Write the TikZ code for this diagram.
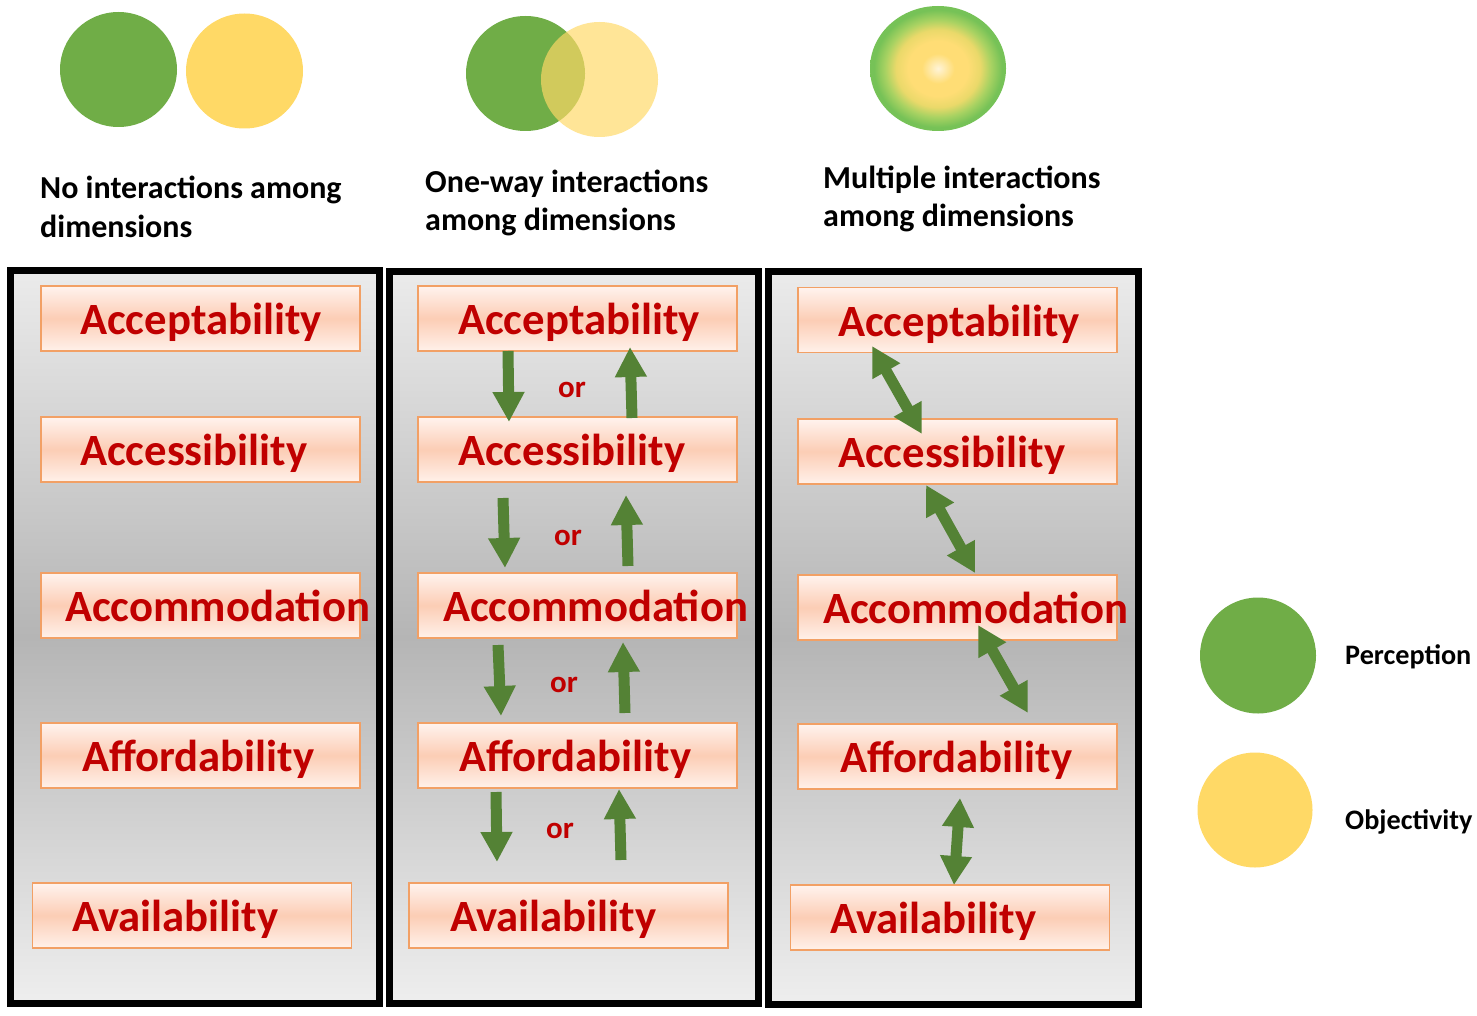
\documentclass[tikz,border=0pt]{standalone}
\usepackage{fontspec}
\setmainfont{Carlito}
\usetikzlibrary{arrows.meta,calc}
\definecolor{pgreen}{HTML}{70AD47}
\definecolor{pyellow}{HTML}{FFD966}
\definecolor{agreen}{HTML}{548235}
\definecolor{dred}{HTML}{C00000}
\definecolor{boxedge}{HTML}{F2A065}
\definecolor{boxtop}{HTML}{FFF3EE}
\definecolor{boxmid}{HTML}{FCCDB5}
\definecolor{boxbot}{HTML}{FFF1EA}
\definecolor{paneltop}{HTML}{EBEBEB}
\definecolor{panelmid}{HTML}{B5B5B5}
\definecolor{panelbot}{HTML}{EEEEEE}
\definecolor{bc0}{HTML}{FFF4D8}
\definecolor{bc1}{HTML}{FFDD75}
\definecolor{bc2}{HTML}{EAD96A}
\definecolor{bc3}{HTML}{A8D262}
\definecolor{bc4}{HTML}{76C257}
\pgfdeclareradialshading{ballshade}{\pgfpoint{0bp}{0bp}}{color(0bp)=(bc0); color(6bp)=(bc1); color(11bp)=(bc1); color(15.5bp)=(bc2); color(19.5bp)=(bc3); color(23.5bp)=(bc4); color(50bp)=(bc4)}
\tikzset{
  panel/.style={draw=black, line width=7pt, top color=paneltop, bottom color=panelbot, middle color=panelmid},
  dimbox/.style={draw=boxedge, line width=1.4pt, rectangle, inner sep=0pt, minimum width=319pt, minimum height=65pt, top color=boxtop, bottom color=boxbot, middle color=boxmid},
  dimtext/.style={anchor=base west, inner sep=0pt, text=dred, font=\fontsize{44.7}{50}\selectfont\bfseries},
  ortext/.style={anchor=base, inner sep=0pt, text=dred, font=\fontsize{31}{36}\selectfont\bfseries},
  headtext/.style={anchor=base west, inner sep=0pt, text=black, font=\fontsize{32}{38}\selectfont\bfseries},
  legtext/.style={anchor=base west, inner sep=0pt, text=black, font=\fontsize{28.2}{33}\selectfont\bfseries},
  onearrow/.style={draw=agreen, line width=11pt, -{Triangle[width=30pt,length=30pt]}},
  twoarrow/.style={draw=agreen, line width=11pt, {Triangle[width=30pt,length=29pt]}-{Triangle[width=30pt,length=29pt]}}
}
\begin{document}
\begin{tikzpicture}[x=1pt,y=-1pt]
\useasboundingbox[fill=white] (0,0) rectangle (1477,1016);

% top symbols
\fill[pgreen] (118.5,69.5) ellipse [x radius=58.5, y radius=57.5];
\fill[pyellow] (244.5,71) ellipse [x radius=58.5, y radius=57.5];
\fill[pgreen] (525.5,73.5) ellipse [x radius=59.5, y radius=57.5];
\fill[pyellow, fill opacity=0.68] (599.5,79.5) ellipse [x radius=58.5, y radius=57.5];
\shade[shading=ballshade] (938,68.5) ellipse [x radius=68, y radius=62.5];

% headings
\node[headtext] (h1a) at (40,199) {No interactions among};
\node[headtext] (h1b) at (40,238) {dimensions};
\node[headtext] (h2a) at (425,193) {One-way interactions};
\node[headtext] (h2b) at (425,231) {among dimensions};
\node[headtext] (h3a) at (823,189) {Multiple interactions};
\node[headtext] (h3b) at (823,227) {among dimensions};

% panels
\path[panel] (10.5,270.5) rectangle (379.5,1003.5);
\path[panel] (389.5,271.5) rectangle (758.5,1003.5);
\path[panel] (768.5,272) rectangle (1138.5,1004);

% panel 1
\node[dimbox] (p1a) at (200.5,318.5) {};
\node[dimtext] at (80,334) {Acceptability};
\node[dimbox] (p1b) at (200.5,449.5) {};
\node[dimtext] at (80,465) {Accessibility};
\node[dimbox] (p1c) at (200.5,605.5) {};
\node[dimtext] at (65,621) {Accommodation};
\node[dimbox] (p1d) at (200.5,755.5) {};
\node[dimtext] at (82,771) {Affordability};
\node[dimbox] (p1e) at (192,915.5) {};
\node[dimtext] at (72,931) {Availability};

% panel 2
\node[dimbox] (p2a) at (577.5,318.5) {};
\node[dimtext] at (458,334) {Acceptability};
\node[dimbox] (p2b) at (577.5,449.5) {};
\node[dimtext] at (458,465) {Accessibility};
\node[dimbox] (p2c) at (577.5,605.5) {};
\node[dimtext] at (443,621) {Accommodation};
\node[dimbox] (p2d) at (577.5,755.5) {};
\node[dimtext] at (459,771) {Affordability};
\node[dimbox] (p2e) at (568.5,915.5) {};
\node[dimtext] at (450,931) {Availability};

% panel 3
\node[dimbox] (p3a) at (957.5,320) {};
\node[dimtext] at (838,336) {Acceptability};
\node[dimbox] (p3b) at (957.5,451.5) {};
\node[dimtext] at (838,467) {Accessibility};
\node[dimbox] (p3c) at (957.5,607.5) {};
\node[dimtext] at (823,623) {Accommodation};
\node[dimbox] (p3d) at (957.5,756.5) {};
\node[dimtext] at (840,772) {Affordability};
\node[dimbox] (p3e) at (950,917.5) {};
\node[dimtext] at (830,933) {Availability};

% panel 2 arrows
\coordinate (d1s) at (508,351); \coordinate (d1e) at (509,422);
\coordinate (u1s) at (632,418); \coordinate (u1e) at (630,347);
\coordinate (d2s) at (503,498); \coordinate (d2e) at (505,568);
\coordinate (u2s) at (628,566); \coordinate (u2e) at (626,495);
\coordinate (d3s) at (498,645); \coordinate (d3e) at (501,716);
\coordinate (u3s) at (625,713); \coordinate (u3e) at (623,642);
\coordinate (d4s) at (496,792); \coordinate (d4e) at (497,862);
\coordinate (u4s) at (621,860); \coordinate (u4e) at (619,789);
\draw[onearrow] (d1s) -- (d1e);
\draw[onearrow] (u1s) -- (u1e);
\draw[onearrow] (d2s) -- (d2e);
\draw[onearrow] (u2s) -- (u2e);
\draw[onearrow] (d3s) -- (d3e);
\draw[onearrow] (u3s) -- (u3e);
\draw[onearrow] (d4s) -- (d4e);
\draw[onearrow] (u4s) -- (u4e);
\node[ortext] (or1) at (572,397) {or};
\node[ortext] (or2) at (568,545) {or};
\node[ortext] (or3) at (564,692) {or};
\node[ortext] (or4) at (560,838) {or};

% panel 3 arrows
\coordinate (b1s) at (872,346); \coordinate (b1e) at (922,434);
\coordinate (b2s) at (926,485); \coordinate (b2e) at (975,573);
\coordinate (b3s) at (978,625); \coordinate (b3e) at (1028,713);
\coordinate (b4s) at (960,798); \coordinate (b4e) at (954,885);
\draw[twoarrow] (b1s) -- (b1e);
\draw[twoarrow] (b2s) -- (b2e);
\draw[twoarrow] (b3s) -- (b3e);
\draw[twoarrow] (b4s) -- (b4e);

% legend
\fill[pgreen] (1258,655.5) circle [radius=58];
\fill[pyellow] (1255,810) circle [radius=57.5];
\node[legtext] (lp) at (1345,664) {Perception};
\node[legtext] (lo) at (1345,829) {Objectivity};
\end{tikzpicture}
\end{document}
